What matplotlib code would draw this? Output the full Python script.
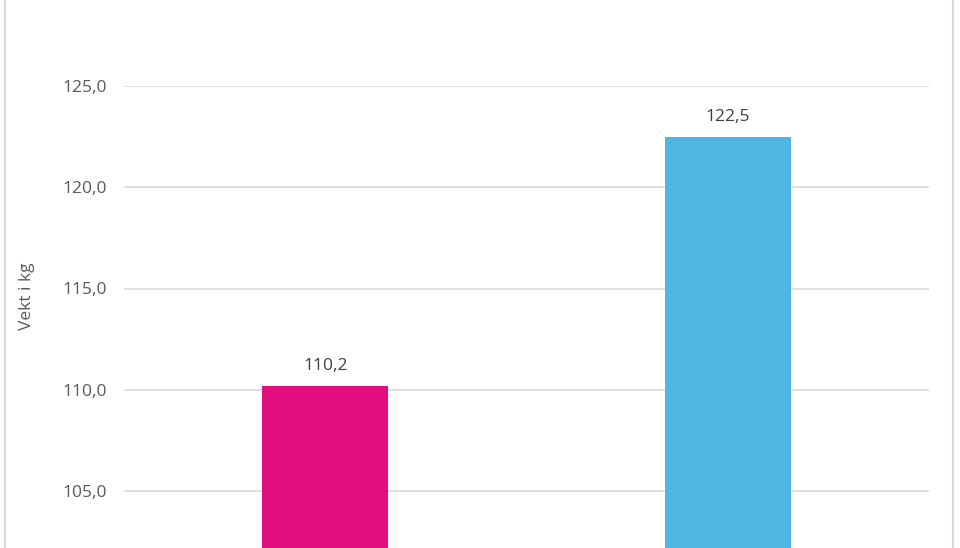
import matplotlib
matplotlib.use("Agg")
import matplotlib.pyplot as plt
from matplotlib.lines import Line2D

# data
categories = ["Gruppe 1", "Gruppe 2"]
values = [110.2, 122.5]
bar_colors = ["#E20D7E", "#4FB5E3"]
y_ticks = [105.0, 110.0, 115.0, 120.0, 125.0]

W, H = 960, 548
plt.rcParams["font.family"] = ["Open Sans", "DejaVu Sans"]

fig = plt.figure(figsize=(W / 100, H / 100), dpi=100)
fig.patch.set_facecolor("white")

# plot area: gridlines run from x=124 to x=929, 125 at y=86, 105 at y=491
px_per_unit = (491 - 86) / 20.0
y_bottom = 105.0 - (H - 491) / px_per_unit
ax = fig.add_axes([124 / W, 0, (929 - 124) / W, 1 - 86 / H])
ax.set_ylim(y_bottom, 125.0)
ax.set_xlim(-0.5, len(categories) - 0.5)

x = range(len(categories))
bars = ax.bar(x, values, width=0.313, color=bar_colors, zorder=3)

for b, v in zip(bars, values):
    ax.annotate(f"{v:.1f}".replace(".", ","),
                (b.get_x() + b.get_width() / 2, v),
                xytext=(0, 14), textcoords="offset points",
                ha="center", va="center", fontsize=12.5, color="#404040")

ax.set_yticks(y_ticks)
ax.set_yticklabels([f"{t:.1f}".replace(".", ",") for t in y_ticks],
                   fontsize=12.5, color="#595959")
ax.tick_params(axis="y", length=0, pad=12)
ax.set_xticks([])
ax.grid(axis="y", color="#D9D9D9", linewidth=1.2, zorder=0)
for s in ax.spines.values():
    s.set_visible(False)

fig.text(27 / W, 1 - 296 / H, "Vekt i kg", rotation=90, ha="center",
         va="center", fontsize=12.5, color="#595959")

# chart-area border (left and right edges visible)
for xb in (5, 953):
    fig.add_artist(Line2D([xb / W, xb / W], [0, 1], color="#D9D9D9",
                          linewidth=1.5, transform=fig.transFigure))

fig.savefig("out.png", dpi=100)
